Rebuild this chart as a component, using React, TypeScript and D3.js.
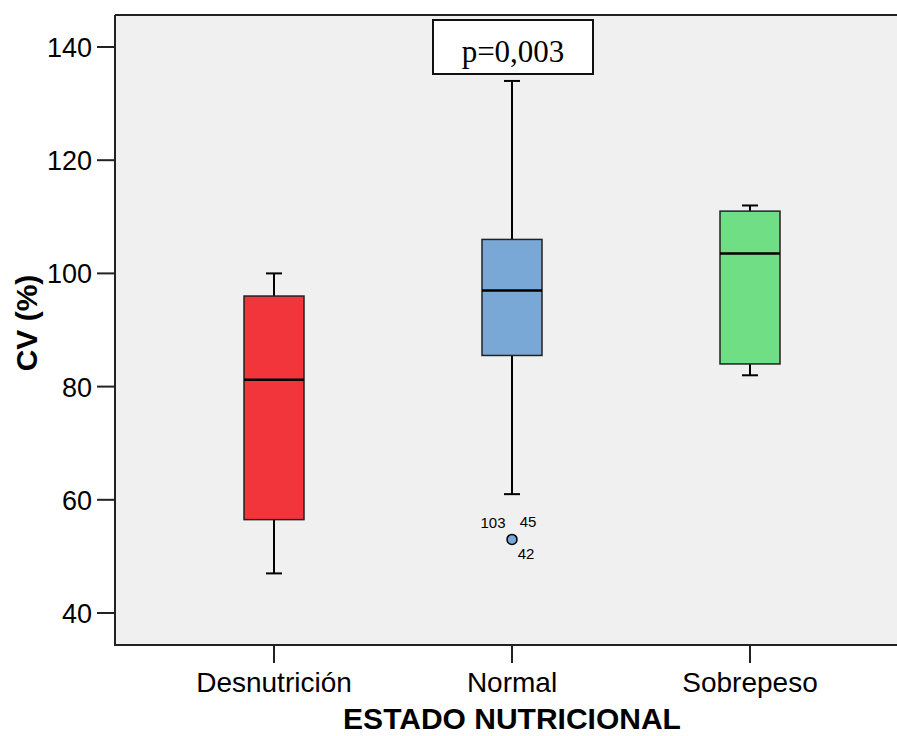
import React from "react";
import * as d3 from "d3";

const categories = ["Desnutrición", "Normal", "Sobrepeso"];
const whiskerLow = [47, 61, 82];
const q1 = [56.5, 85.5, 84];
const median = [81.2, 97, 103.5];
const q3 = [96, 106, 111];
const whiskerHigh = [100, 134, 112];
const fills = ["#f2353b", "#79a8d6", "#70de84"];
const yTicks = [40, 60, 80, 100, 120, 140];
const outlierCategory = "Normal";
const outlierValue = 53;
const outlierLabels = ["103", "45", "42"];
const pLabel = "p=0,003";

export default function App() {
  const W = 897, H = 736;
  const left = 115, right = 900, top = 15, bottom = 645;
  const y = d3.scaleLinear().domain([34.35, 145.65]).range([bottom, top]);
  const x = d3.scaleBand().domain(categories).range([155, 869]).paddingInner(0).paddingOuter(0);
  const cx = (c: string) => (x(c) as number) + x.bandwidth() / 2;
  const boxW = 60, capW = 16;
  const ox = cx(outlierCategory), oy = y(outlierValue);
  const sans = "Arial, 'Liberation Sans', sans-serif";
  return (
    <svg width={W} height={H} style={{ position: "absolute", left: 0, top: 0 }}>
      <rect x={left} y={top} width={right - left} height={bottom - top} fill="#f0f0f0" />
      <line x1={left} x2={W} y1={top} y2={top} stroke="#222" strokeWidth={2} />
      {categories.map((c, i) => {
        const m = cx(c);
        return (
          <g key={c}>
            <line x1={m} x2={m} y1={y(q3[i])} y2={y(whiskerHigh[i])} stroke="#000" strokeWidth={2} />
            <line x1={m} x2={m} y1={y(q1[i])} y2={y(whiskerLow[i])} stroke="#000" strokeWidth={2} />
            <line x1={m - capW / 2} x2={m + capW / 2} y1={y(whiskerHigh[i])} y2={y(whiskerHigh[i])} stroke="#000" strokeWidth={2} />
            <line x1={m - capW / 2} x2={m + capW / 2} y1={y(whiskerLow[i])} y2={y(whiskerLow[i])} stroke="#000" strokeWidth={2} />
            <rect x={m - boxW / 2} y={y(q3[i])} width={boxW} height={y(q1[i]) - y(q3[i])} fill={fills[i]} stroke="#222" strokeWidth={1.5} />
            <line x1={m - boxW / 2} x2={m + boxW / 2} y1={y(median[i])} y2={y(median[i])} stroke="#000" strokeWidth={2.5} />
            <line x1={m} x2={m} y1={bottom} y2={bottom + 18} stroke="#222" strokeWidth={2} />
            <text x={m} y={692} textAnchor="middle" fontFamily={sans} fontSize={28} fill="#000">{c}</text>
          </g>
        );
      })}
      <circle cx={ox} cy={oy} r={5} fill="#79a8d6" stroke="#000" strokeWidth={1.5} />
      <text x={ox - 19} y={oy - 11} textAnchor="middle" fontFamily={sans} fontSize={15}>{outlierLabels[0]}</text>
      <text x={ox + 16} y={oy - 12} textAnchor="middle" fontFamily={sans} fontSize={15}>{outlierLabels[1]}</text>
      <text x={ox + 14} y={oy + 20} textAnchor="middle" fontFamily={sans} fontSize={15}>{outlierLabels[2]}</text>
      <line x1={left} x2={left} y1={top} y2={bottom + 1} stroke="#222" strokeWidth={2} />
      <line x1={left - 1} x2={W} y1={bottom} y2={bottom} stroke="#222" strokeWidth={2} />
      {yTicks.map((t) => (
        <g key={t}>
          <line x1={left - 18} x2={left} y1={y(t)} y2={y(t)} stroke="#222" strokeWidth={2} />
          <text x={left - 23} y={y(t) + 10} textAnchor="end" fontFamily={sans} fontSize={27}>{t}</text>
        </g>
      ))}
      <rect x={433} y={20} width={160} height={54} fill="#fff" stroke="#111" strokeWidth={2} />
      <text x={513} y={62} textAnchor="middle" fontFamily="'Liberation Serif', 'Times New Roman', serif" fontSize={31}>{pLabel}</text>
      <text transform="translate(37,323) rotate(-90)" textAnchor="middle" fontFamily={sans} fontSize={30} fontWeight="bold">CV (%)</text>
      <text x={512} y={729} textAnchor="middle" fontFamily={sans} fontSize={30} fontWeight="bold">ESTADO NUTRICIONAL</text>
    </svg>
  );
}
